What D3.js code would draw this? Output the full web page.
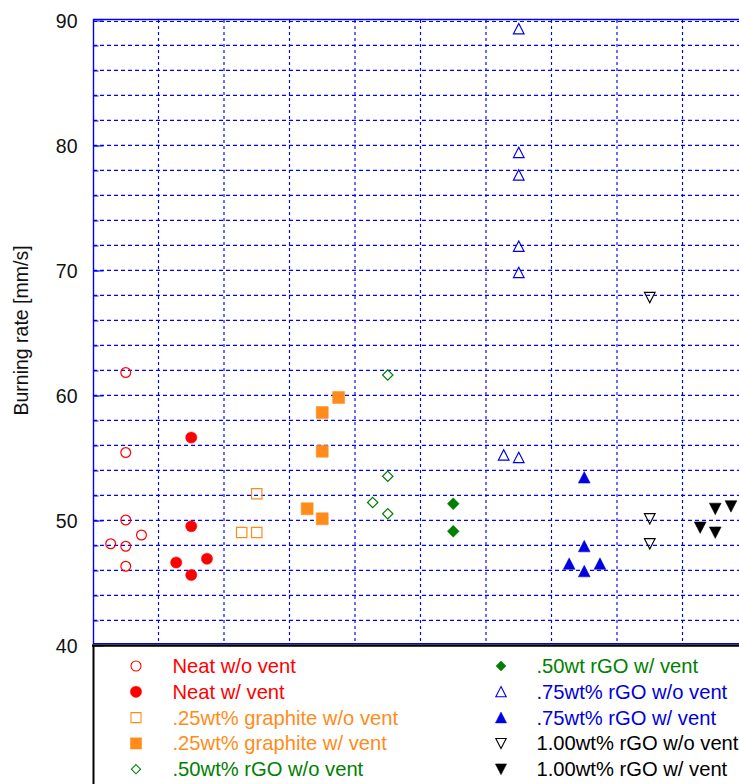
<!DOCTYPE html>
<html>
<head>
<meta charset="utf-8">
<script src="https://cdn.jsdelivr.net/npm/d3@7"></script>
<style>
  html, body { margin: 0; padding: 0; background: #fff; overflow: hidden; }
  svg { display: block; font-family: "Liberation Sans", Arial, Helvetica, sans-serif; }
</style>
</head>
<body>
<svg id="chart" width="739" height="784"></svg>
<script>
// Burning rate measurements, one array pair per sample type (x = slot position, y = mm/s)
const neatNoVentX     = [0.5, 0.5, 0.5, 0.27, 0.5, 0.74, 0.5];
const neatNoVentY     = [61.8, 55.4, 50.0, 48.1, 47.9, 48.8, 46.3];
const neatVentX       = [1.5, 1.5, 1.27, 1.5, 1.74];
const neatVentY       = [56.6, 49.5, 46.6, 45.6, 46.9];
const graphiteNoVentX = [2.5, 2.27, 2.5];
const graphiteNoVentY = [52.1, 49.0, 49.0];
const graphiteVentX   = [3.75, 3.5, 3.5, 3.27, 3.5];
const graphiteVentY   = [59.8, 58.6, 55.5, 50.9, 50.1];
const rgo50NoVentX    = [4.5, 4.5, 4.27, 4.5];
const rgo50NoVentY    = [61.6, 53.5, 51.4, 50.5];
const rgo50VentX      = [5.5, 5.5];
const rgo50VentY      = [51.3, 49.1];
const rgo75NoVentX    = [6.5, 6.5, 6.5, 6.5, 6.5, 6.27, 6.5];
const rgo75NoVentY    = [89.3, 79.4, 77.6, 71.9, 69.8, 55.2, 55.0];
const rgo75VentX      = [7.5, 7.5, 7.27, 7.5, 7.74];
const rgo75VentY      = [53.4, 47.9, 46.5, 45.9, 46.5];
const rgo100NoVentX   = [8.5, 8.5, 8.5];
const rgo100NoVentY   = [67.8, 50.1, 48.1];
const rgo100VentX     = [9.27, 9.5, 9.5, 9.74];
const rgo100VentY     = [49.4, 50.9, 49.0, 51.1];

const seriesNames = [
  "Neat w/o vent", "Neat w/ vent",
  ".25wt% graphite w/o vent", ".25wt% graphite w/ vent",
  ".50wt% rGO w/o vent", ".50wt rGO w/ vent",
  ".75wt% rGO w/o vent", ".75wt% rGO w/ vent",
  "1.00wt% rGO w/o vent", "1.00wt% rGO w/ vent"
];

const yTickLabels = [40, 50, 60, 70, 80, 90];
const yMinorTicks = d3.range(42, 90, 2);
const xGridSlots  = d3.range(1, 11);

// Marker shapes (custom d3 symbol types, size = half-extent in px)
const shapes = {
  circle:   { draw(ctx, r) { ctx.moveTo(r, 0); ctx.arc(0, 0, r, 0, 2 * Math.PI); ctx.closePath(); } },
  square:   { draw(ctx, r) { ctx.rect(-r, -r, 2 * r, 2 * r); } },
  diamond:  { draw(ctx, r) { ctx.moveTo(0, -r); ctx.lineTo(r, 0); ctx.lineTo(0, r); ctx.lineTo(-r, 0); ctx.closePath(); } },
  triUp:    { draw(ctx, r) { ctx.moveTo(0, -r); ctx.lineTo(r, r * 0.95); ctx.lineTo(-r, r * 0.95); ctx.closePath(); } },
  triDown:  { draw(ctx, r) { ctx.moveTo(0, r); ctx.lineTo(r, -r * 0.95); ctx.lineTo(-r, -r * 0.95); ctx.closePath(); } }
};

const RED = "#ff0000", ORANGE = "#ff8c1a", GREEN = "#008000", BLUE = "#0000e0", BLACK = "#000000";

const series = [
  { name: seriesNames[0], xs: neatNoVentX,     ys: neatNoVentY,     shape: "circle",  color: RED,    filled: false, r: 4.9, lr: 5 },
  { name: seriesNames[1], xs: neatVentX,       ys: neatVentY,       shape: "circle",  color: RED,    filled: true,  r: 5.6, lr: 5.6 },
  { name: seriesNames[2], xs: graphiteNoVentX, ys: graphiteNoVentY, shape: "square",  color: ORANGE, filled: false, r: 5.2, lr: 5 },
  { name: seriesNames[3], xs: graphiteVentX,   ys: graphiteVentY,   shape: "square",  color: ORANGE, filled: true,  r: 6,   lr: 5.6 },
  { name: seriesNames[4], xs: rgo50NoVentX,    ys: rgo50NoVentY,    shape: "diamond", color: GREEN,  filled: false, r: 5.2, lr: 4.6 },
  { name: seriesNames[5], xs: rgo50VentX,      ys: rgo50VentY,      shape: "diamond", color: GREEN,  filled: true,  r: 5.9, lr: 5 },
  { name: seriesNames[6], xs: rgo75NoVentX,    ys: rgo75NoVentY,    shape: "triUp",   color: BLUE,   filled: false, r: 5.3, lr: 5.2 },
  { name: seriesNames[7], xs: rgo75VentX,      ys: rgo75VentY,      shape: "triUp",   color: BLUE,   filled: true,  r: 5.9, lr: 5.6 },
  { name: seriesNames[8], xs: rgo100NoVentX,   ys: rgo100NoVentY,   shape: "triDown", color: BLACK,  filled: false, r: 5.3, lr: 5.2 },
  { name: seriesNames[9], xs: rgo100VentX,     ys: rgo100VentY,     shape: "triDown", color: BLACK,  filled: true,  r: 5.9, lr: 5.6 }
];

const svg = d3.select("#chart");
const W = 739;
const plot = { left: 93, top: 20, right: 748, bottom: 645 };

const x = d3.scaleLinear().domain([0, 10]).range([plot.left, plot.right]);
const y = d3.scaleLinear().domain([40, 90]).range([plot.bottom, plot.top]);

const gridColor = "#0000ff";

// Horizontal dashed grid
const gGrid = svg.append("g");
gGrid.selectAll("line.hgrid")
  .data(yMinorTicks.concat([90]))
  .join("line")
  .attr("class", "hgrid")
  .attr("x1", plot.left).attr("x2", W)
  .attr("y1", d => y(d) + (d === 90 ? 1.5 : 0.4)).attr("y2", d => y(d) + (d === 90 ? 1.5 : 0.4))
  .attr("stroke", gridColor).attr("stroke-width", 1.15)
  .attr("stroke-dasharray", "4,3");

// Vertical dashed grid
gGrid.selectAll("line.vgrid")
  .data(xGridSlots)
  .join("line")
  .attr("class", "vgrid")
  .attr("x1", d => x(d)).attr("x2", d => x(d))
  .attr("y1", plot.top).attr("y2", plot.bottom - 2)
  .attr("stroke", gridColor).attr("stroke-width", 1.15)
  .attr("stroke-dasharray", "3,3");

// Left axis: inward major ticks with labels, inward minor ticks
const axisG = svg.append("g").attr("transform", `translate(${plot.left + 0.5},0)`);
axisG.call(d3.axisLeft(y).tickValues(yTickLabels).tickSize(-10).tickPadding(16).tickFormat(d3.format("d")))
  .call(g => g.select(".domain").remove())
  .call(g => g.selectAll(".tick line").attr("stroke", gridColor).attr("transform", "translate(0,0.5)"))
  .call(g => g.selectAll(".tick text")
    .attr("fill", "#111").attr("font-size", "19.5px")
    .attr("font-family", "'Liberation Sans', Arial, sans-serif").attr("dy", "0.36em"));

const minorG = svg.append("g").attr("transform", `translate(${plot.left + 0.5},0)`);
minorG.call(d3.axisLeft(y).tickValues(yMinorTicks).tickSize(-5).tickFormat(""))
  .call(g => g.select(".domain").remove())
  .call(g => g.selectAll(".tick line").attr("stroke", gridColor).attr("transform", "translate(0,0.5)"));

// Frame: top and left in blue
svg.append("line").attr("x1", plot.left).attr("x2", W).attr("y1", 19.5).attr("y2", 19.5)
  .attr("stroke", gridColor).attr("stroke-width", 1.4);
svg.append("line").attr("x1", plot.left + 0.5).attr("x2", plot.left + 0.5).attr("y1", 19).attr("y2", 644)
  .attr("stroke", gridColor).attr("stroke-width", 1.4);
svg.append("line").attr("x1", plot.left).attr("x2", W).attr("y1", 643.5).attr("y2", 643.5)
  .attr("stroke", gridColor).attr("stroke-width", 1);

// Y axis title
svg.append("text")
  .attr("transform", `translate(28,${(plot.top + plot.bottom) / 2 - 2}) rotate(-90)`)
  .attr("text-anchor", "middle")
  .attr("font-size", "19.5px")
  .attr("fill", "#111")
  .text("Burning rate [mm/s]");

// Data markers
const symbolGen = d3.symbol();
const gPts = svg.append("g");
series.forEach(s => {
  const pts = s.xs.map((xv, i) => ({ x: xv, y: s.ys[i] }));
  gPts.selectAll(null)
    .data(pts)
    .join("path")
    .attr("transform", d => `translate(${x(d.x)},${y(d.y)})`)
    .attr("d", symbolGen.type(shapes[s.shape]).size(s.r)())
    .attr("fill", s.filled ? s.color : "none")
    .attr("stroke", s.color)
    .attr("stroke-width", s.filled ? 0.5 : 1.2);
});

// Legend box below the plot
const legend = svg.append("g");
legend.append("line").attr("x1", plot.left - 1).attr("x2", W).attr("y1", 645.5).attr("y2", 645.5)
  .attr("stroke", "#000").attr("stroke-width", 2.5);
legend.append("line").attr("x1", plot.left + 0.5).attr("x2", plot.left + 0.5).attr("y1", 645).attr("y2", 784)
  .attr("stroke", "#000").attr("stroke-width", 2);

const legendCols = [{ mx: 136, tx: 172.5 }, { mx: 501, tx: 536.5 }];
const legendRowY = d3.range(5).map(i => 666 + i * 25.8);

series.forEach((s, i) => {
  const col = legendCols[Math.floor(i / 5)];
  const ry = legendRowY[i % 5];
  legend.append("path")
    .attr("transform", `translate(${col.mx},${ry})`)
    .attr("d", symbolGen.type(shapes[s.shape]).size(s.lr)())
    .attr("fill", s.filled ? s.color : "none")
    .attr("stroke", s.color)
    .attr("stroke-width", s.filled ? 0.5 : 1.1);
  legend.append("text")
    .attr("x", col.tx).attr("y", ry + 7)
    .attr("font-size", "20.2px")
    .attr("fill", s.color === BLUE ? "#0000e0" : s.color)
    .text(s.name);
});
</script>
</body>
</html>
